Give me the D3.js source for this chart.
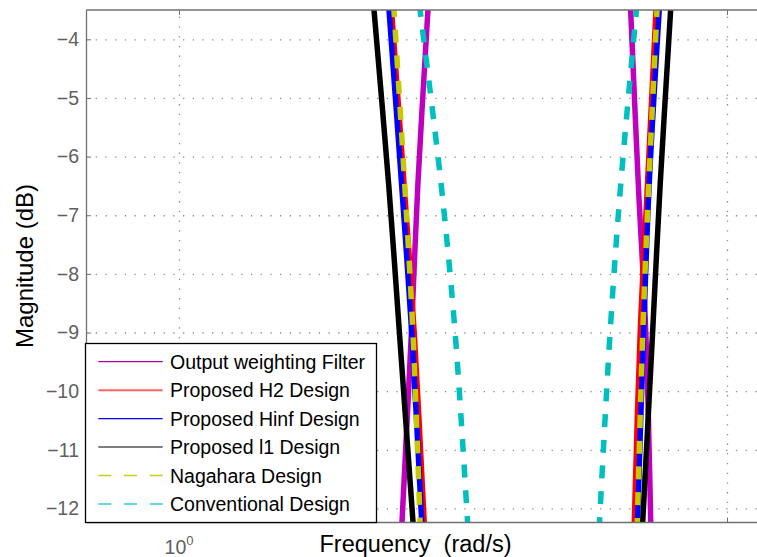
<!DOCTYPE html>
<html><head><meta charset="utf-8">
<script src="https://cdn.jsdelivr.net/npm/d3@7"></script>
<style>
html,body{margin:0;padding:0;background:#fff;}
svg{display:block;font-family:"Liberation Sans",Arial,Helvetica,sans-serif;}
</style></head><body>
<svg id="chart" width="757" height="557"></svg>
<script>
// ---------------- DATA ----------------
const seriesNames = ["Output weighting Filter","Proposed H2 Design","Proposed Hinf Design","Proposed l1 Design","Nagahara Design","Conventional Design"];
// magnitude levels (dB) at which frequencies were read
const dBLevels = [-3.4, -6.5, -9, -12.3];
// frequency (rad/s) of each curve at those levels: lower edge and upper edge
const weightingLeft  = [2.8506, 2.7275, 2.6552, 2.5502];
const weightingRight = [6.6637, 6.8916, 7.1092, 7.2603];
const h2Left         = [2.4380, 2.5760, 2.6866, 2.8042];
const h2Right        = [7.4300, 7.1572, 6.9440, 6.7711];
const hinfLeft       = [2.4125, 2.5491, 2.6586, 2.7749];
const hinfRight      = [7.5337, 7.2086, 7.0439, 6.8627];
const l1Left         = [2.2643, 2.4146, 2.5246, 2.6764];
const l1Right        = [7.9034, 7.5495, 7.3153, 7.0113];
const nagaharaLeft   = [2.4638, 2.5825, 2.6719, 2.7552];
const nagaharaRight  = [7.4612, 7.1965, 7.0202, 6.8569];
const convLeft       = [2.7447, 3.0106, 3.1903, 3.3652];
const convRight      = [6.8512, 6.3950, 6.1190, 5.8475];
const yTickValues = [-12,-11,-10,-9,-8,-7,-6,-5,-4];
const xTickValues = [1, 10];
const xTickBase = ["10", ""];
const xTickExp  = ["0", ""];
const yDomain = [-12.24, -3.5];
const xLabel = "Frequency  (rad/s)";
const yLabel = "Magnitude (dB)";

// ---------------- STYLES ----------------
const styles = [
  {color:"#bf00bf", width:5.5, dash:null, lColor:"#b000b0", lWidth:1.3},
  {color:"#ff0000", width:5.5, dash:null, lColor:"#ff6464", lWidth:2},
  {color:"#0000ff", width:5.5, dash:null, lColor:"#0000ff", lWidth:1.3},
  {color:"#000000", width:5.5, dash:null, lColor:"#555555", lWidth:1.5},
  {color:"#c8c800", width:5.5, dash:"13,12.7", lColor:"#cccc10", lWidth:1.5},
  {color:"#00bfbf", width:5.5, dash:"13,12.7", lColor:"#30cccc", lWidth:1.5}
];
const branches = [
  [weightingLeft, weightingRight],[h2Left, h2Right],[hinfLeft, hinfRight],
  [l1Left, l1Right],[nagaharaLeft, nagaharaRight],[convLeft, convRight]
];

// ---------------- LAYOUT ----------------
const m = {left:86, top:10};
const pw = 671, ph = 512.5;
const axisCol = "#707070", tickTextCol = "#606060";
const svg = d3.select("#chart");
const x = d3.scaleLog().domain([1,10]).range([93,641]);
const y = d3.scaleLinear().domain(yDomain).range([ph,0]);
const g = svg.append("g").attr("transform",`translate(${m.left},${m.top})`);

svg.append("defs").append("clipPath").attr("id","clip")
  .append("rect").attr("x",0).attr("y",0).attr("width",pw).attr("height",ph);

// grid
const gy = g.append("g").call(d3.axisLeft(y).tickValues(yTickValues).tickSize(-pw).tickFormat(""));
gy.select(".domain").remove();
gy.selectAll("line").attr("stroke","#8a8a8a").attr("stroke-width",1.3).attr("stroke-dasharray","1.3,8.4");
const gx = g.append("g").attr("transform",`translate(0,${ph})`)
  .call(d3.axisBottom(x).tickValues(xTickValues).tickSize(-ph).tickFormat(""));
gx.select(".domain").remove();
gx.selectAll("line").attr("stroke","#8a8a8a").attr("stroke-width",1.3).attr("stroke-dasharray","1.3,8.4");

// curves
const line = d3.line().x(d=>x(d[0])).y(d=>y(d[1])).curve(d3.curveCatmullRom);
const curves = g.append("g").attr("clip-path","url(#clip)");
branches.forEach((br,i)=>{
  br.forEach(freqs=>{
    const pts = freqs.map((f,k)=>[f, dBLevels[k]]);
    curves.append("path").datum(pts).attr("d",line)
      .attr("fill","none").attr("stroke",styles[i].color)
      .attr("stroke-width",styles[i].width)
      .attr("stroke-dasharray",styles[i].dash)
      .attr("stroke-linecap","butt");
  });
});

// axes
const ay = g.append("g").call(d3.axisLeft(y).tickValues(yTickValues)
  .tickSizeInner(-5).tickSizeOuter(0).tickPadding(7)
  .tickFormat(d=> d<0 ? "\u2212"+Math.abs(d) : String(d)));
ay.select(".domain").attr("stroke",axisCol).attr("stroke-width",1.3);
ay.selectAll("line").attr("stroke",axisCol);
ay.selectAll("text").attr("fill",tickTextCol).attr("font-size",19.5)
  .attr("font-family","'Liberation Sans',Arial,sans-serif");

const ab = g.append("g").attr("transform",`translate(0,${ph})`)
  .call(d3.axisBottom(x).tickValues(xTickValues).tickSizeInner(-5).tickSizeOuter(0).tickFormat(""));
ab.select(".domain").remove();
ab.selectAll("line").attr("stroke",axisCol);
const at = g.append("g")
  .call(d3.axisTop(x).tickValues(xTickValues).tickSizeInner(-5).tickSizeOuter(0).tickFormat(""));
at.select(".domain").remove();
at.selectAll("line").attr("stroke",axisCol);

g.append("line").attr("x1",0).attr("x2",pw+20).attr("y1",ph).attr("y2",ph).attr("stroke",axisCol).attr("stroke-width",1.3);
g.append("line").attr("x1",0).attr("x2",pw+20).attr("y1",0).attr("y2",0).attr("stroke",axisCol).attr("stroke-width",1.3);

// x tick labels with superscript
xTickValues.forEach((v,i)=>{
  if(!xTickBase[i]) return;
  const t = g.append("text").attr("x",x(v)).attr("y",ph+31.5)
    .attr("text-anchor","middle").attr("fill",tickTextCol).attr("font-size",19.5);
  t.append("tspan").text(xTickBase[i]);
  t.append("tspan").attr("font-size",13).attr("dy",-9.5).text(xTickExp[i]);
});

// axis labels
svg.append("text").attr("x",415.5).attr("y",552).attr("text-anchor","middle")
  .attr("font-size",23.5).attr("fill","#000").attr("xml:space","preserve")
  .style("white-space","pre").text(xLabel);
svg.append("text").attr("transform","translate(33.3,266) rotate(-90)")
  .attr("text-anchor","middle").attr("font-size",24).attr("fill","#000").text(yLabel);

// legend
const lg = svg.append("g");
lg.append("rect").attr("x",85.5).attr("y",343.5).attr("width",291).attr("height",179)
  .attr("fill","#fff").attr("stroke","#000").attr("stroke-width",1.3);
seriesNames.forEach((name,i)=>{
  const cy = 361.7 + i*28.45;
  lg.append("line").attr("x1",98.3).attr("x2",162.7).attr("y1",cy).attr("y2",cy)
    .attr("stroke",styles[i].lColor).attr("stroke-width",styles[i].lWidth)
    .attr("stroke-dasharray",styles[i].dash);
  lg.append("text").attr("x",170).attr("y",cy+7).attr("font-size",19.5)
    .attr("fill","#000").text(name);
});
</script>
</body></html>
